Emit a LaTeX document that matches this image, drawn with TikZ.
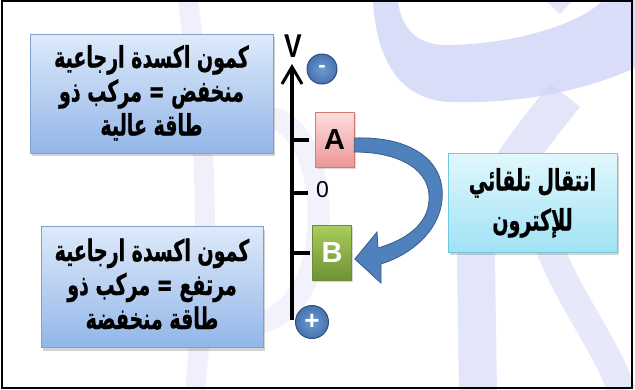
\documentclass[tikz,border=0pt]{standalone}
\usepackage{fontspec}
\setmainfont{Liberation Sans}
\newfontfamily\arabicfont[Script=Arabic, BoldFeatures={FakeBold=1}]{DejaVu Sans}
\TeXXeTstate=1
\usetikzlibrary{shadows,arrows.meta}
\definecolor{wm}{RGB}{208,212,245}
\definecolor{arrowblue}{RGB}{79,129,189}
\definecolor{arrowdark}{RGB}{56,93,138}
\definecolor{bluedraw}{RGB}{127,160,205}
\definecolor{bluetop}{RGB}{222,234,250}
\definecolor{bluebot}{RGB}{146,182,232}
\definecolor{cyandraw}{RGB}{110,200,222}
\definecolor{cyantop}{RGB}{225,248,253}
\definecolor{cyanbot}{RGB}{160,226,244}
\definecolor{reddraw}{RGB}{214,120,120}
\definecolor{redtop}{RGB}{252,222,222}
\definecolor{redbot}{RGB}{236,150,150}
\definecolor{greendraw}{RGB}{110,140,55}
\definecolor{greentop}{RGB}{170,205,95}
\definecolor{greenbot}{RGB}{112,145,52}
\definecolor{circdraw}{RGB}{44,78,122}
\definecolor{circin}{RGB}{110,155,210}
\definecolor{circout}{RGB}{70,115,175}
\newcommand{\arl}[1]{\rule[-9pt]{0pt}{34pt}\smash{\scalebox{1}[1.55]{\beginR #1\endR}}}
\newcommand{\arlw}[1]{\rule[-12pt]{0pt}{40pt}\smash{\scalebox{1}[1.55]{\beginR #1\endR}}}
\tikzset{
  infobox/.style={draw=#1, line width=0.8pt, drop shadow={opacity=0.35,shadow xshift=2pt,shadow yshift=-3pt},
     align=center, inner sep=4pt,
     font=\arabicfont\bfseries\fontsize{19}{34}\selectfont},
  bluebox/.style={infobox=bluedraw, top color=bluetop, bottom color=bluebot},
  cyanbox/.style={infobox=cyandraw, top color=cyantop, bottom color=cyanbot},
  levelbox/.style={draw=#1, line width=0.6pt, minimum width=39pt, minimum height=55pt, inner sep=0pt,
     drop shadow={opacity=0.3,shadow xshift=1.5pt,shadow yshift=-2pt},
     font=\bfseries\fontsize{29}{29}\selectfont},
  signcircle/.style={circle, draw=circdraw, line width=1pt,
     inner color=circin, outer color=circout,
     minimum size=#1, inner sep=0pt, text=white, font=\bfseries\fontsize{26}{26}\selectfont},
  tick/.style={line width=3.8pt},
  wmstroke/.style={wm, line width=#1, line cap=round}
}
\begin{document}
\begin{tikzpicture}[x=1pt,y=-1pt]
\useasboundingbox (0,0) rectangle (635,389);
% watermark
\begin{scope}
\fill[wm, opacity=0.8] (373,0) .. controls (376,60) and (400,100) .. (450,102)
   .. controls (530,104) and (590,88) .. (635,68) -- (635,0) -- (603,0)
   .. controls (580,25) and (510,45) .. (445,45) .. controls (415,45) and (400,25) .. (398,0) -- cycle;
\fill[wm, opacity=0.6] (545,0) -- (573,0) -- (560,14) -- cycle;
\draw[wmstroke=38pt, opacity=0.6, line cap=butt] (565,95) .. controls (530,140) and (478,200) .. (476,260) -- (478,392);
\draw[wmstroke=28pt, opacity=0.5, line cap=butt] (540,220) .. controls (560,290) and (605,340) .. (622,392);
\draw[wmstroke=20pt, opacity=0.35, line cap=butt] (188,0) .. controls (200,100) and (215,200) .. (195,389);
\draw[wmstroke=22pt, opacity=0.3] (262,118) .. controls (330,110) and (345,300) .. (262,322);
\end{scope}
% frame
\draw[line width=1.2pt] (2,1) rectangle (632,388);
% info boxes
\node[bluebox, minimum width=243pt, minimum height=119pt] (hi) at (151.5,93.5)
  {\arl{كمون اكسدة ارجاعية}\\\arl{منخفض = مركب ذو}\\\arl{طاقة عالية}};
\node[bluebox, minimum width=222pt, minimum height=121pt] (lo) at (152,287)
  {\arl{كمون اكسدة ارجاعية}\\\arl{مرتفع  = مركب ذو}\\\arl{طاقة منخفضة}};
\node[cyanbox, minimum width=169pt, minimum height=99pt, font=\arabicfont\bfseries\fontsize{19}{40}\selectfont] (sp) at (532.5,202.5)
  {\arlw{انتقال تلقائي}\\\arlw{للإكترون}};
% axis
\coordinate (axbot) at (292,320);
\coordinate (axtop) at (292,64);
\draw[line width=3.3pt, -{Straight Barb[length=17pt,width=20pt,line width=3pt]}] (axbot) -- (axtop);
\node[font=\bfseries\fontsize{33}{33}\selectfont, inner sep=0pt] (V) at (293,46) {\scalebox{0.8}[1]{V}};
% ticks
\coordinate (tA) at (292,140);
\coordinate (t0) at (292,193);
\coordinate (tB) at (292,253);
\node[font=\fontsize{23}{23}\selectfont, inner sep=0pt] (zero) at (322.5,190) {0};
\draw[tick] (tA) -- ++(17,0);
\draw[tick] (t0) -- ++(16,0);
\draw[tick] (tB) -- ++(18,0);
% level boxes
\node[levelbox=reddraw, top color=redtop, bottom color=redbot] (A) at (334.5,139.5) {A};
\node[levelbox=greendraw, top color=greentop, bottom color=greenbot, text=white] (B) at (332,252.5) {B};
% signs
\node[signcircle=30pt, font=\bfseries\fontsize{22}{22}\selectfont] (minus) at (322,69) {-};
\node[signcircle=33pt] (plus) at (312,322) {+};
% curved arrow from A to B
\filldraw[fill=arrowblue, draw=arrowdark, line width=0.8pt]
  ([yshift=1.5pt]A.east) .. controls (410,136) and (446,160) .. (442,200)
  .. controls (439,232) and (410,255) .. (381,264)
  -- (381,283) -- ([xshift=3pt,yshift=-6.5pt]B.east) -- (377,232) -- (378,248)
  .. controls (405,240) and (428,225) .. (429,200)
  .. controls (431,170) and (400,152) .. ([yshift=-12.5pt]A.east) -- cycle;
\end{tikzpicture}
\end{document}
